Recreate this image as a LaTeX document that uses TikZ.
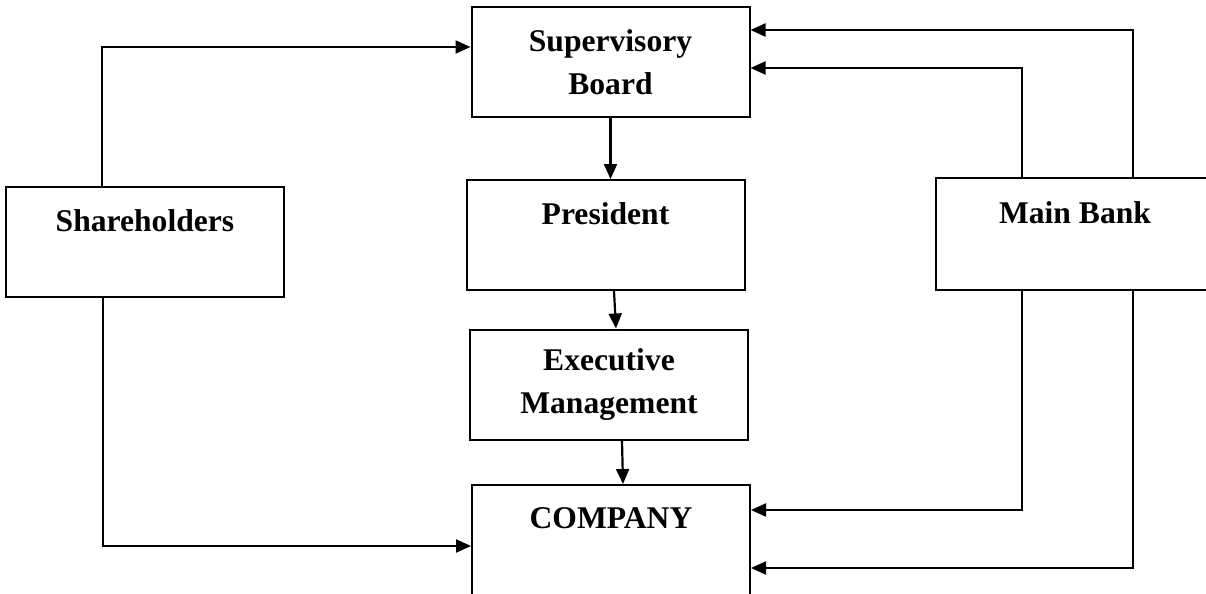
\documentclass[tikz,border=0pt]{standalone}
\usepackage{fontspec}
\setmainfont{Liberation Serif}
\usetikzlibrary{positioning,arrows.meta,calc}

\begin{document}
\begin{tikzpicture}[
    x=0.5pt, y=-0.5pt,
    font=\fontsize{15.8}{21.5}\selectfont\bfseries,
    org_box/.style={draw, line width=1pt, inner sep=0pt, align=center, minimum width=139pt, minimum height=55pt},
    arrow/.style={-{Triangle[length=7.5pt,width=6.5pt]}, line width=1.1pt}
]
\useasboundingbox (0,0) rectangle (1206,594);
\clip (0,0) rectangle (1206,594);

\node (board)   [org_box] at (610.5,62)  {Supervisory\\Board};
\node (pres)    [org_box] at (605.5,235) {President\\ \mbox{}};
\node (exec)    [org_box] at (609,384.5) {Executive\\Management};
\node (company) [org_box] at (611,540)   {COMPANY\\ \mbox{}};
\node (share)   [org_box] at (145,242)   {Shareholders\\ \mbox{}};
\node (bank)    [org_box, minimum height=56pt] at (1075,234) {Main Bank\\ \mbox{}};

\draw [arrow] (board.south) -- (board.south |- pres.north);
\draw [arrow] ($(pres.south)+(8.5,0)$) -- ($(exec.north)+(7,0)$);
\draw [arrow] ($(exec.south)+(13,0)$) -- ($(company.north)+(12,0)$);

\draw [arrow] ($(share.north)+(-43,0)$) |- ($(board.west)+(0,-15)$);
\draw [arrow] ($(share.south)+(-42,0)$) |- ($(company.west)+(0,6)$);

\draw [arrow] ($(bank.north)+(58,0)$)  |- ($(board.east)+(0,-32)$);
\draw [arrow] ($(bank.north)+(-53,0)$) |- ($(board.east)+(0,6)$);
\draw [arrow] ($(bank.south)+(-53,0)$) |- ($(company.east)+(0,-30)$);
\draw [arrow] ($(bank.south)+(58,0)$)  |- ($(company.east)+(0,28)$);

\end{tikzpicture}
\end{document}
